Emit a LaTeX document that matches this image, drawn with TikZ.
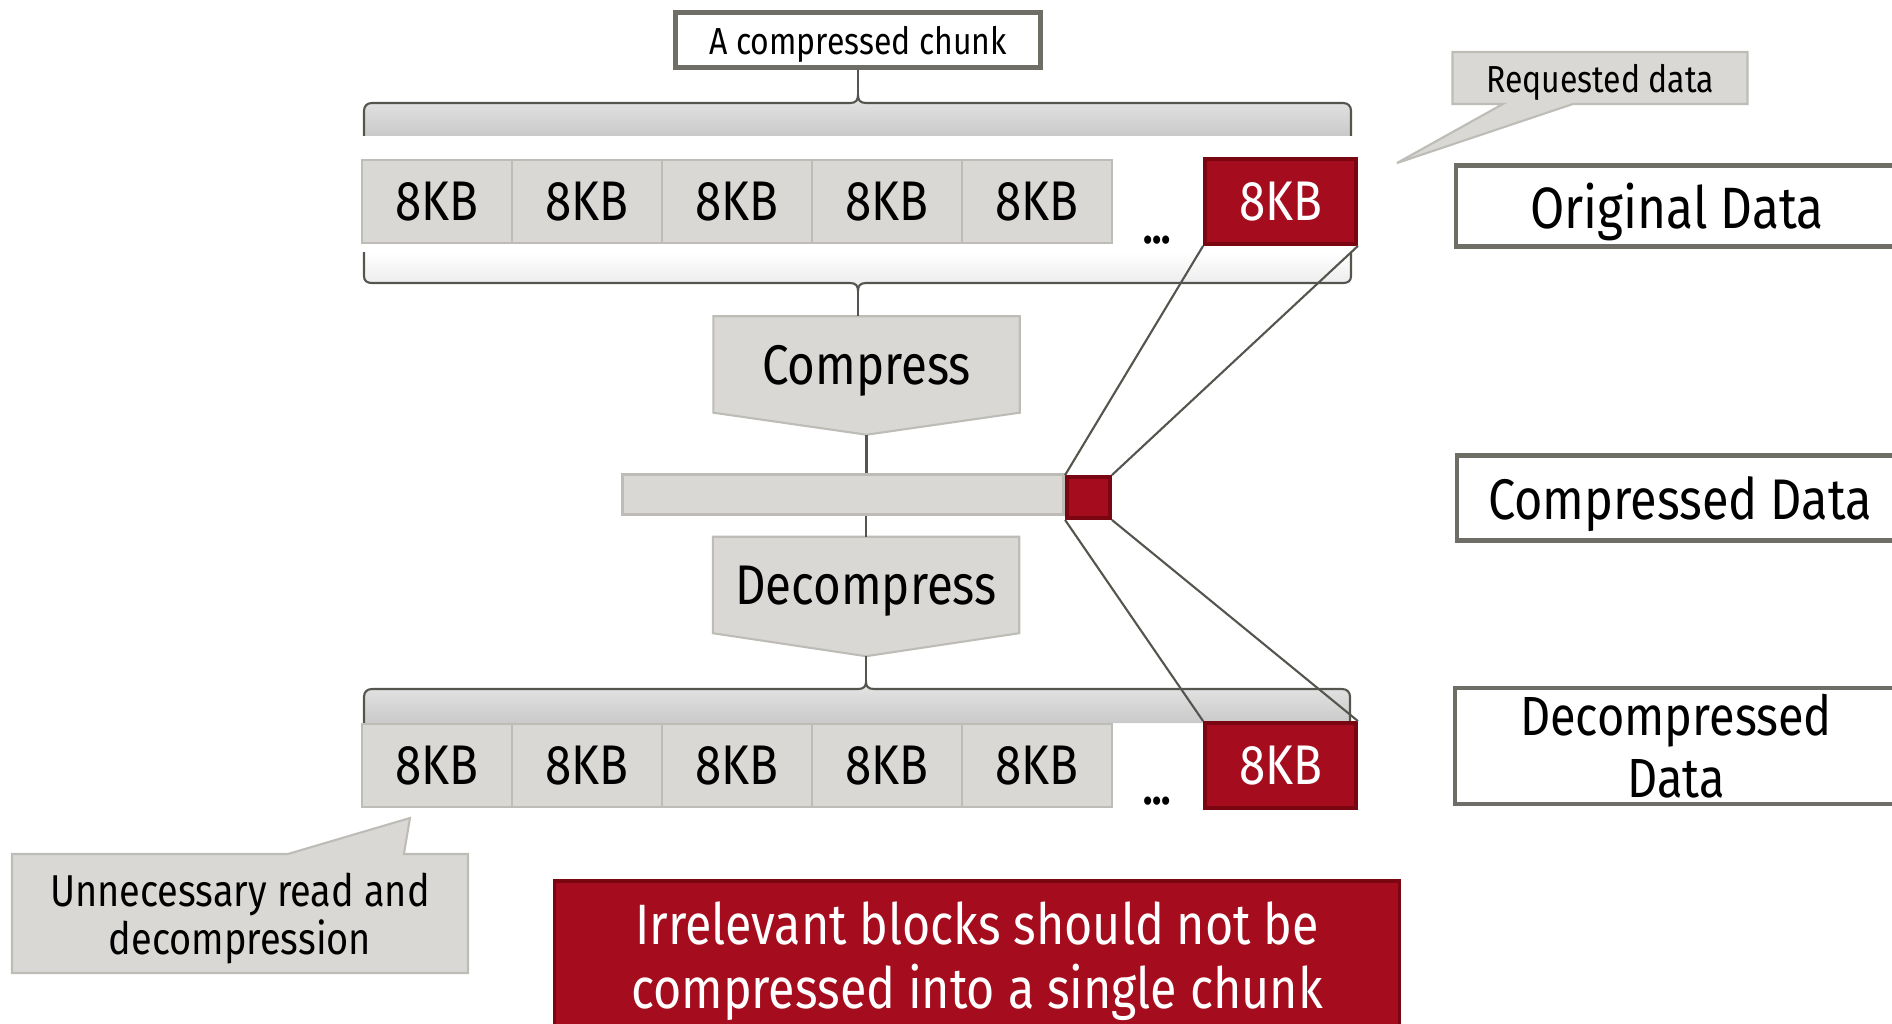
\documentclass[tikz,border=0pt]{standalone}
\usepackage{fontspec}
\setmainfont{Fira Sans}[FakeStretch=0.85]
\usetikzlibrary{positioning,backgrounds,shapes.callouts}
\definecolor{fjred}{HTML}{A50D1E}
\definecolor{fjdark}{HTML}{7A0612}
\definecolor{blkgray}{HTML}{D9D8D4}
\definecolor{blkline}{HTML}{BDBCB7}
\definecolor{framecol}{HTML}{6E6E67}
\definecolor{wirecol}{HTML}{55554F}
\newcommand{\fsz}[2]{\fontsize{#1}{#2}\selectfont}

\begin{document}
\begin{tikzpicture}[x=0.1mm, y=-0.1mm,
    blk/.style={draw=blkline, fill=blkgray, line width=0.45pt, inner sep=0pt, outer sep=0pt,
                minimum width=15mm, minimum height=8.3mm, font=\fsz{15.9}{18}},
    hot/.style={draw=fjdark, fill=fjred, line width=1.1pt, text=white, inner sep=0pt,
                minimum width=15.1mm, minimum height=8.5mm, font=\fsz{15.9}{18}},
    tag/.style={draw=framecol, fill=white, line width=1.4pt, inner sep=0pt, align=center},
    proc/.style={inner sep=0pt, minimum width=30.5mm, minimum height=9.5mm, text depth=0pt,
                 font=\fsz{15.9}{18}},
    procshape/.style={fill=blkgray, draw=blkline, line width=0.6pt},
    note/.style={rectangle callout, fill=blkgray, draw=blkline, line width=0.6pt,
                 inner sep=0pt, align=center},
    chunkbrace/.style={draw=wirecol, line width=0.6pt},
    ellip/.style={inner sep=0pt, font=\bfseries\fsz{13}{13}},
    wire/.style={draw=wirecol, line width=0.6pt}
  ]
  \useasboundingbox (0,0) rectangle (1892,1024);
  \clip (0,0) rectangle (1892,1024);

  \node[tag, minimum width=36.5mm, minimum height=5.5mm, text depth=0pt, font=\fsz{10.7}{12}] (chunk) at (858,40) {A compressed chunk};

  \coordinate (topnotch) at (858,95);
  \path[chunkbrace, top color=black!10, bottom color=black!21]
    (364,136) -- (364,111) .. controls (364,106) and (367,103) .. (372,103) -- (850,103)
    .. controls (856,103) and (858,100) .. (topnotch) .. controls (858,100) and (860,103) .. (866,103)
    -- (1343,103) .. controls (1348,103) and (1351,106) .. (1351,111) -- (1351,136);

  \node[blk] (t1) at (437,201.5) {8KB};
  \foreach \i [remember=\i as \p (initially 1)] in {2,...,5}
    \node[blk, right=0pt of t\p] (t\i) {8KB};
  \node[ellip] (tdots) at (1157,240) {...};
  \node[hot] (t6) at (1280.5,201.5) {8KB};

  \coordinate (midnotch) at (858,291);
  \path[chunkbrace, top color=white, bottom color=black!9]
    (364,252) -- (364,276) .. controls (364,281) and (367,283) .. (372,283) -- (850,283)
    .. controls (856,283) and (858,286) .. (midnotch) .. controls (858,286) and (860,283) .. (866,283)
    -- (1343,283) .. controls (1348,283) and (1351,281) .. (1351,276) -- (1351,252);

  \node[proc] (comp) at (866.5,364.5) {Compress};
  \coordinate[below=2.2mm of comp.south] (comptip);

  \node[draw=blkline, fill=blkgray, line width=0.6pt, inner sep=0pt,
        minimum width=44.1mm, minimum height=4mm] (bar) at (843,494.5) {};
  \node[hot, minimum width=4.3mm, minimum height=4.1mm] (sq) at (1088.5,497.5) {};

  \node[proc] (decomp) at (866,585) {Decompress};
  \coordinate[below=2.3mm of decomp.south] (decomptip);

  \coordinate (lownotch) at (866,682);
  \path[chunkbrace, top color=black!10, bottom color=black!21]
    (364,723) -- (364,697) .. controls (364,692) and (367,689) .. (372,689) -- (858,689)
    .. controls (864,689) and (866,686) .. (lownotch) .. controls (866,686) and (868,689) .. (874,689)
    -- (1342,689) .. controls (1347,689) and (1350,692) .. (1350,697) -- (1350,723);

  \node[blk] (b1) at (437,765.5) {8KB};
  \foreach \i [remember=\i as \p (initially 1)] in {2,...,5}
    \node[blk, right=0pt of b\p] (b\i) {8KB};
  \node[ellip] (bdots) at (1157,801) {...};
  \node[hot] (b6) at (1280.5,765.5) {8KB};

  \begin{scope}[on background layer]
    \path[procshape] (comp.north west) -- (comp.north east) -- (comp.south east)
      -- (comptip) -- (comp.south west) -- cycle;
    \path[procshape] (decomp.north west) -- (decomp.north east) -- (decomp.south east)
      -- (decomptip) -- (decomp.south west) -- cycle;
  \end{scope}

  \draw[wire] (chunk.south) -- (topnotch);
  \draw[wire] (midnotch) -- (midnotch |- comp.north);
  \draw[wire] (comptip) -- (comptip |- bar.north);
  \draw[wire] (decomp.north |- bar.south) -- (decomp.north);
  \draw[wire] (decomptip) -- (lownotch);
  \draw[wire] (t6.south west) -- (sq.north west);
  \draw[wire] (t6.south east) -- (sq.north east);
  \draw[wire] (sq.south west) -- (b6.north west);
  \draw[wire] (sq.south east) -- (b6.north east);

  \coordinate (reqtip) at (1397,163);
  \node[note, callout absolute pointer=(reqtip), callout pointer width=7mm, text depth=0pt,
        minimum width=29.5mm, minimum height=5.2mm, font=\fsz{10.7}{12}] (req) at (1600,78) {Requested data};

  \node[tag, minimum width=44.2mm, minimum height=8.1mm, text depth=0pt, font=\fsz{16.6}{20}] (orig) at (1677,206) {Original Data};
  \node[tag, minimum width=44.6mm, minimum height=8.5mm, text depth=0pt, font=\fsz{16.3}{19}] (cdata) at (1680,498) {Compressed Data};
  \node[tag, minimum width=44.2mm, minimum height=11.6mm, font=\fsz{15.7}{17.6}] (ddata) at (1676,746) {Decompressed\\Data};

  \coordinate (wastetip) at (410,818);
  \node[note, callout absolute pointer=(wastetip), callout pointer width=11.6mm, text depth=0pt,
        minimum width=45.6mm, minimum height=11.9mm, font=\fsz{12.7}{13.7}] (waste) at (240,913.5)
    {Unnecessary read and\\decompression};

  \node[hot, minimum width=84.5mm, minimum height=16mm, align=center, font=\fsz{16.2}{18.2}] (msg) at (977,961)
    {Irrelevant blocks should not be\\compressed into a single chunk};
\end{tikzpicture}
\end{document}
